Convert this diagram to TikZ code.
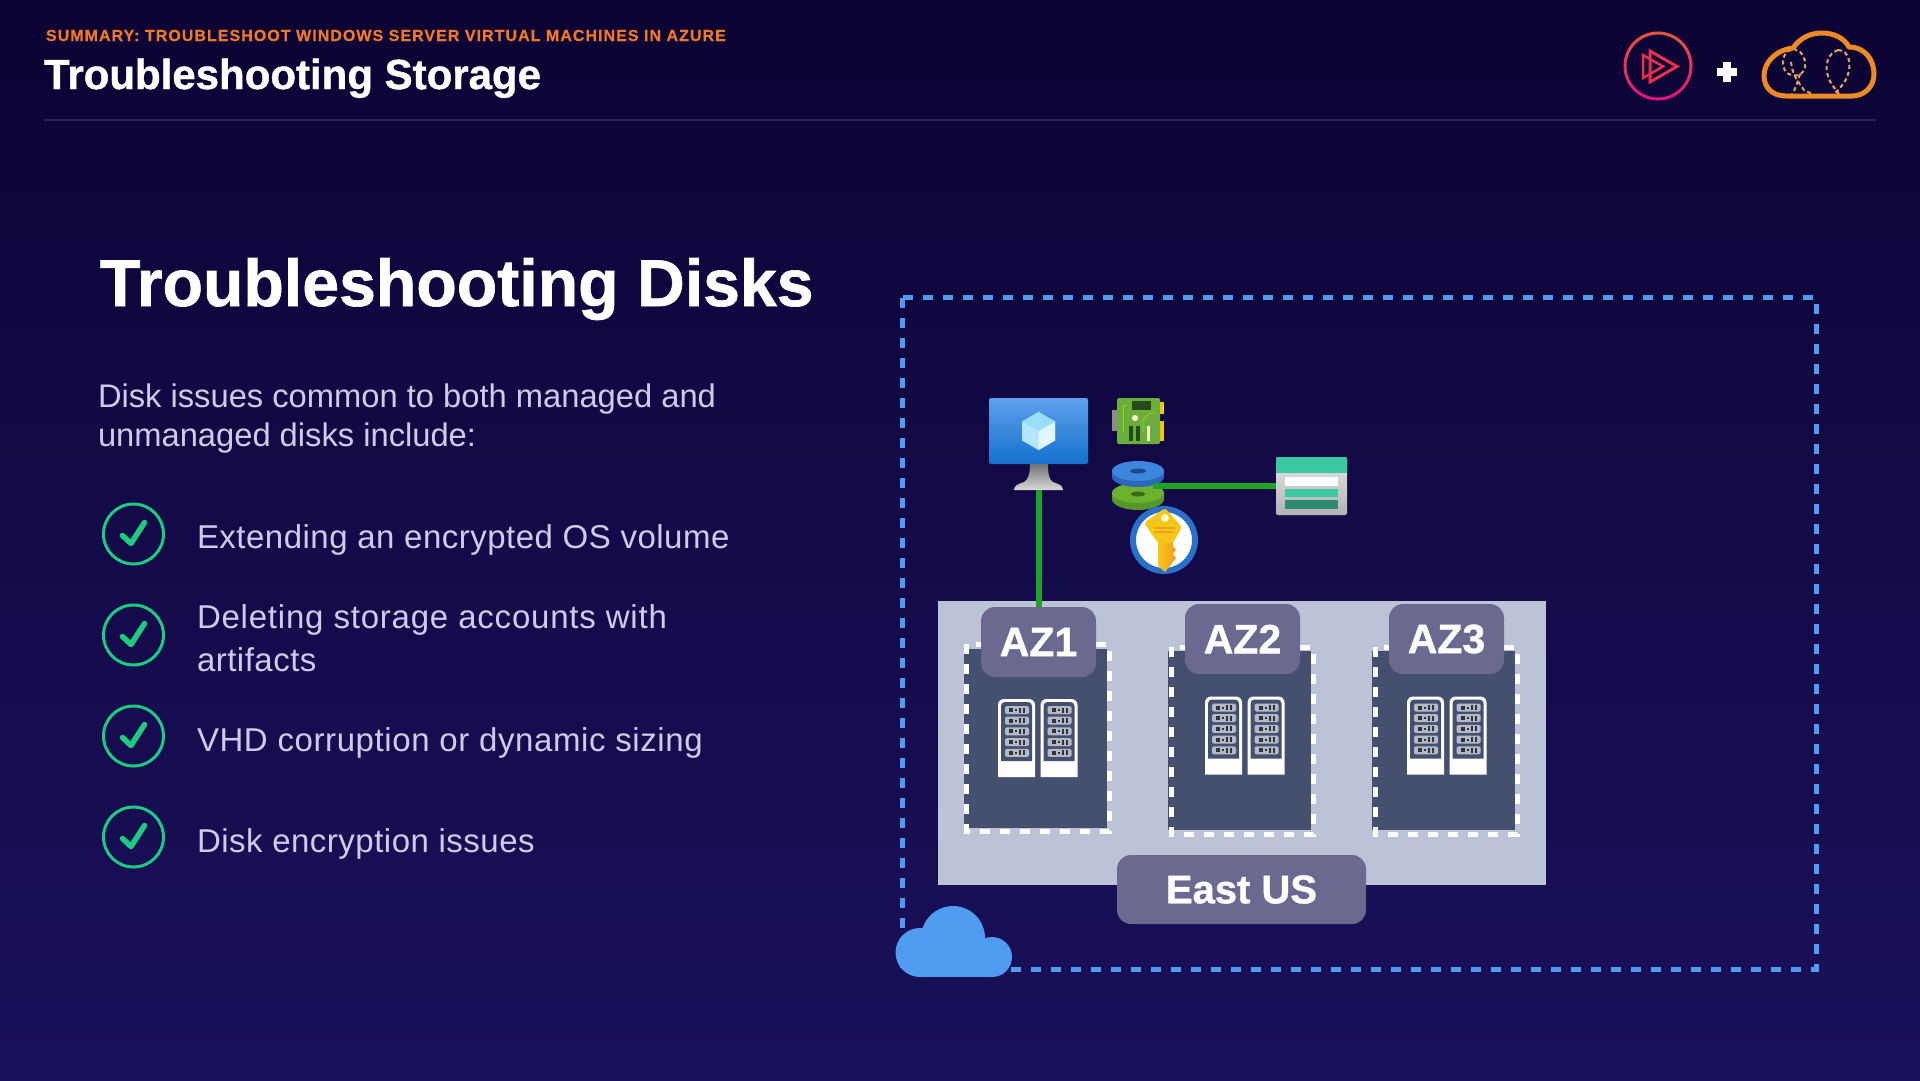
\documentclass[tikz,border=0pt]{standalone}
\usepackage{fontspec}
\setmainfont{Liberation Sans}
\usetikzlibrary{calc}
\definecolor{bgtop}{HTML}{0C0333}
\definecolor{bgmid}{HTML}{140A49}
\definecolor{bgbot}{HTML}{19115A}
\definecolor{bodytxt}{HTML}{CFCBEA}
\definecolor{hdrorange}{HTML}{F0782A}
\definecolor{dashblue}{HTML}{4F9CF0}
\definecolor{regiongray}{HTML}{BCC3D6}
\definecolor{zonedark}{HTML}{44506E}
\definecolor{labelpurple}{HTML}{6C6991}
\definecolor{linkgreen}{HTML}{1FA22A}
\definecolor{checkgreen}{HTML}{1CCB80}
\definecolor{cloudorange}{HTML}{EE8A25}
\definecolor{balloon}{HTML}{E4A468}
\definecolor{teal}{HTML}{3CC8A0}
\definecolor{darkteal}{HTML}{2E8A70}
\definecolor{ringa}{HTML}{E5533D}
\definecolor{ringb}{HTML}{E0147E}
\definecolor{playred}{HTML}{E8304A}
\definecolor{rulecol}{HTML}{2A2260}
\definecolor{monitortop}{HTML}{5EA0EC}
\definecolor{monitorbot}{HTML}{1570CC}
\definecolor{nicgreen}{HTML}{6CAE3C}
\definecolor{nicdark}{HTML}{264A1C}
\definecolor{gold}{HTML}{F5C518}
\definecolor{goldd}{HTML}{F0A020}
\definecolor{diskblue}{HTML}{3E86DC}
\definecolor{diskblued}{HTML}{2A68BC}
\definecolor{diskgreen}{HTML}{6CB22E}
\definecolor{diskgreend}{HTML}{56962A}
\definecolor{keyring}{HTML}{2A70C8}
\newcommand{\heavy}{\bfseries\addfontfeature{FakeBold=1}}
\tikzset{
  x=1pt,y=-1pt,
  txt/.style={inner sep=0pt,outer sep=0pt,anchor=base west,text=bodytxt},
  listtxt/.style={txt,font=\fontsize{33}{38}\selectfont\addfontfeature{LetterSpace=1.5}},
  introtxt/.style={txt,font=\fontsize{32.7}{38}\selectfont},
  flat/.style={inner sep=0pt,outer sep=0pt,draw=none,rectangle},
  zonebox/.style={flat,fill=zonedark,anchor=north west,minimum width=143pt,minimum height=179pt},
  zonedash/.style={draw=white,line width=5pt,dash pattern=on 10pt off 10pt},
  azlabel/.style={flat,fill=labelpurple,rounded corners=14pt,minimum width=115pt,minimum height=70pt,text=white,font=\fontsize{41}{50}\selectfont\heavy},
  checkring/.style={circle,draw=checkgreen,line width=3pt,minimum size=60pt,inner sep=0pt},
  checkmark/.style={draw=checkgreen,line width=5.5pt,line cap=round,line join=round},
  link/.style={draw=linkgreen,line width=6pt},
  ballooned/.style={draw=balloon,line width=2pt,dash pattern=on 4pt off 3pt}
}
\newcommand{\rackunit}[2]{%
  \begin{scope}[shift={(#1,#2)}]
    \fill[white] (0,78) -- (0,6) arc[start angle=180,end angle=270,radius=6] -- (31,0) arc[start angle=270,end angle=360,radius=6] -- (37,78) -- cycle;
    \fill[zonedark] (3,62) -- (3,7) arc[start angle=180,end angle=270,radius=4] -- (30,3) arc[start angle=270,end angle=360,radius=4] -- (34,62) -- cycle;
    \foreach \ry in {7,17.7,28.4,39.1,49.8}{
      \fill[rounded corners=1.5pt,fill=regiongray!85!gray] (7,\ry) rectangle (31,\ry+8);
      \fill[black!80] (11,\ry+2) rectangle (15,\ry+6);
      \fill[black!80] (17,\ry+3) rectangle (19,\ry+5);
      \fill[black!80] (21,\ry+1.5) rectangle (23,\ry+6.5);
      \fill[black!80] (25,\ry+1.5) rectangle (27,\ry+6.5);
    }
  \end{scope}}
\begin{document}
\begin{tikzpicture}
\useasboundingbox (0,0) rectangle (1920,1080);
\shade[top color=bgtop,bottom color=bgbot,middle color=bgmid] (0,0) rectangle (1920,1080);

% header
\node[txt,text=hdrorange,font=\fontsize{16}{18}\selectfont\bfseries\addfontfeature{LetterSpace=6.5,FakeBold=0.6}] (kicker) at (46,41) {SUMMARY: TROUBLESHOOT WINDOWS SERVER VIRTUAL MACHINES IN AZURE};
\node[txt,text=white,font=\fontsize{42}{46}\selectfont\heavy] (title) at (44,89) {Troubleshooting Storage};
\coordinate (rulea) at (44,120);
\coordinate (ruleb) at (1876,120);
\draw[draw=rulecol,line width=1.5pt] (rulea) -- (ruleb);

% play logo
\foreach \i in {0,...,35}{
  \pgfmathsetmacro{\mixv}{100*(1-sin(\i*10+5))/2}
  \colorlet{ringcol}{ringa!\mixv!ringb}
  \draw[draw=ringcol,line width=3pt] ($(1658,66)+({\i*10-0.5}:33)$) arc[start angle=\i*10-0.5,end angle=\i*10+10.5,radius=33];
}
\draw[draw=playred,line width=3pt,line join=miter] (1650,51) -- (1677,66.5) -- (1650,82) -- cycle;
\draw[draw=playred,line width=2.5pt,line join=miter] (1643,55) -- (1663,66.5) -- (1643,78) -- cycle;

% plus
\fill[white] (1717,68) rectangle (1737,75.5);
\fill[white] (1723.2,62) rectangle (1730.8,82);

% orange cloud
\draw[ballooned] (1791,50) .. controls (1782,52) and (1781,66) .. (1786,72) .. controls (1790,76) and (1800,78) .. (1804,70) .. controls (1808,62) and (1802,50) .. (1795,50);
\draw[ballooned] (1791,62) .. controls (1792,74) and (1798,82) .. (1804,90) -- (1812,94);
\draw[ballooned] (1800,74) .. controls (1797,84) and (1795,90) .. (1792,94);
\draw[ballooned] (1838,50) .. controls (1826,54) and (1825,68) .. (1828,76) .. controls (1830,84) and (1835,88) .. (1839,94);
\draw[ballooned] (1838,50) .. controls (1850,50) and (1851,66) .. (1848,74) .. controls (1846,82) and (1840,88) .. (1834,94);
\draw[draw=cloudorange,line width=5pt,line join=round] (1786,96) .. controls (1772,96) and (1764,87) .. (1764,76) .. controls (1764,62) and (1776,50) .. (1793,48) .. controls (1800,38) and (1810,33) .. (1822,33) .. controls (1834,33) and (1844,38) .. (1849,47) .. controls (1865,47) and (1874,60) .. (1874,74) .. controls (1874,88) and (1863,96) .. (1852,96) -- cycle;

% left column
\node[txt,text=white,font=\fontsize{66.2}{72}\selectfont\heavy] (head) at (100,306) {Troubleshooting Disks};
\node[introtxt] (introa) at (98,407) {Disk issues common to both managed and};
\node[introtxt] (introb) at (98,446) {unmanaged disks include:};

\node[checkring] (c1) at (133.5,534) {};
\node[checkring] (c2) at (133.5,635) {};
\node[checkring] (c3) at (133.5,736) {};
\node[checkring] (c4) at (133.5,837) {};
\foreach \c in {c1,c2,c3,c4}{
  \draw[checkmark] ($(\c)+(-11,1.5)$) -- ($(\c)+(-2.5,9.5)$) -- ($(\c)+(11,-11.5)$);
}
\node[listtxt] (i1) at (197,548) {Extending an encrypted OS volume};
\node[listtxt,font=\fontsize{33}{38}\selectfont\addfontfeature{LetterSpace=2.4}] (i2a) at (197,628) {Deleting storage accounts with};
\node[listtxt] (i2b) at (197,671) {artifacts};
\node[listtxt,font=\fontsize{33}{38}\selectfont\addfontfeature{LetterSpace=1.8}] (i3) at (197,751) {VHD corruption or dynamic sizing};
\node[listtxt] (i4) at (197,852) {Disk encryption issues};

% dashed vnet boundary
\draw[draw=dashblue,line width=5pt,dash pattern=on 10pt off 10pt] (902.5,297.5) rectangle (1816,969);

% blue cloud
\fill[dashblue] (920,952.5) circle[radius=24.5];
\fill[dashblue] (992,957) circle[radius=20];
\fill[dashblue] (953,938) circle[radius=32];
\fill[dashblue] (920,945) rectangle (992,977);

% region
\node[flat,fill=regiongray,anchor=north west,minimum width=607.5pt,minimum height=284pt] (region) at (938,601) {};

% top icons: monitor
\node[flat,anchor=north west,minimum width=99pt,minimum height=66pt] (vm) at (989,398) {};
\shade[top color=monitortop,bottom color=monitorbot,rounded corners=2pt] (989,398) rectangle (1088,464);
\shade[top color=black!55,bottom color=black!15] (1030,464) -- (1048,464) .. controls (1048,474) and (1049,480) .. (1053,482) .. controls (1058,484) and (1063,485) .. (1063,490) -- (1014,490) .. controls (1014,485) and (1019,484) .. (1024,482) .. controls (1028,480) and (1030,474) .. (1030,464) -- cycle;
\coordinate (vmfoot) at (1038.5,490);
\fill[cyan!30!white] (1038.5,412) -- (1055,421.5) -- (1055,440.5) -- (1038.5,450) -- (1022,440.5) -- (1022,421.5) -- cycle;
\fill[cyan!12!white] (1038.5,431) -- (1055,421.5) -- (1055,440.5) -- (1038.5,450) -- cycle;
\fill[cyan!40!white] (1038.5,412) -- (1055,421.5) -- (1038.5,431) -- (1022,421.5) -- cycle;

% network card
\fill[black!45] (1112,410) rectangle (1118,431);
\fill[gold] (1158,402) rectangle (1164,414);
\fill[gold] (1158,421) rectangle (1164,441);
\node[flat,fill=nicgreen,rounded corners=1.5pt,anchor=north west,minimum width=43pt,minimum height=46pt] (nic) at (1117,398) {};
\fill[nicdark] (1132,401) rectangle (1151,410);
\fill[white!80!yellow] (1135,418) circle[radius=3];
\fill[nicdark] (1129,426) rectangle (1133,441);
\fill[nicdark] (1136,426) rectangle (1140,441);
\fill[white!80!yellow] (1147,426) rectangle (1150,441);
\draw[draw=yellow!60!green,line width=.8pt] (1127,405) -- (1123,405) -- (1123,432);
\draw[draw=yellow!60!green,line width=.8pt] (1143,432) -- (1143,420) -- (1150,413) -- (1155,413);

% disks
\node[flat,anchor=center,minimum width=52pt,minimum height=46pt] (disk) at (1138,484) {};
\fill[diskgreend] (1112,493) -- (1112,499) arc[start angle=180,end angle=0,x radius=26,y radius=11] -- (1164,493) -- cycle;
\fill[diskgreen] (1138,493) ellipse[x radius=26,y radius=10];
\fill[diskgreend!70!black] (1138,494) ellipse[x radius=7,y radius=2.5];
\fill[diskblued] (1112,471) -- (1112,477) arc[start angle=180,end angle=0,x radius=26,y radius=10] -- (1164,477) -- (1164,471) -- cycle;
\fill[diskblue] (1138,471) ellipse[x radius=26,y radius=10];
\fill[diskblued!70!black] (1138,471) ellipse[x radius=8,y radius=2.5];
\coordinate (diskport) at (1153,486);

% storage
\node[flat,anchor=north west,minimum width=71pt,minimum height=58pt] (store) at (1276,457) {};
\shade[top color=white!90!black,bottom color=black!30,rounded corners=2pt] (1276,457) rectangle (1347,515);
\fill[teal,rounded corners=2pt] (1276,457) rectangle (1347,472);
\fill[teal] (1276,465) rectangle (1347,473);
\fill[white] (1285,477) rectangle (1338,486);
\fill[teal] (1285,489) rectangle (1338,497);
\fill[darkteal] (1285,500) rectangle (1338,509);

% key
\node[circle,draw=keyring,fill=white,line width=6pt,minimum size=62pt,inner sep=0pt] (key) at (1164,540) {};
\shade[left color=gold,right color=goldd] (1158,538) -- (1173,538) -- (1173,546) -- (1176,550) -- (1173,554) -- (1176,558) -- (1173,562) -- (1165,572) -- (1158,566) -- cycle;
\fill[gold,rounded corners=3pt] (1165,508) -- (1182,527) -- (1173,543) -- (1158,543) -- (1144,523) -- cycle;
\fill[white!80!yellow] (1165,518) circle[radius=4];
\fill[goldd] (1154,527) rectangle (1175,528.5);
\fill[goldd] (1154,531) rectangle (1173,532.5);

% zones
\node[zonebox] (z1) at (964,649) {};
\node[zonebox] (z2) at (1168,651) {};
\node[zonebox] (z3) at (1372,651) {};
\draw[zonedash] (966.5,644) rectangle (1109,831);
\draw[zonedash] (1171,647) rectangle (1313.5,834);
\draw[zonedash] (1375,647) rectangle (1517.5,834);

\rackunit{998}{699}\rackunit{1040.5}{699}
\rackunit{1205}{696.5}\rackunit{1247.5}{696.5}
\rackunit{1407}{696.5}\rackunit{1449.5}{696.5}

\node[azlabel] (a1) at (1038.5,642) {AZ1};
\node[azlabel] (a2) at (1242.5,639) {AZ2};
\node[azlabel] (a3) at (1446.5,639) {AZ3};
\node[azlabel,minimum width=249pt,minimum height=69pt,font=\fontsize{40}{50}\selectfont\heavy] (east) at (1241.5,889.5) {East US};

% connectors
\draw[link] (vmfoot) -- (a1.north);
\draw[link] (diskport) -- (diskport -| store.west);
\end{tikzpicture}
\end{document}
